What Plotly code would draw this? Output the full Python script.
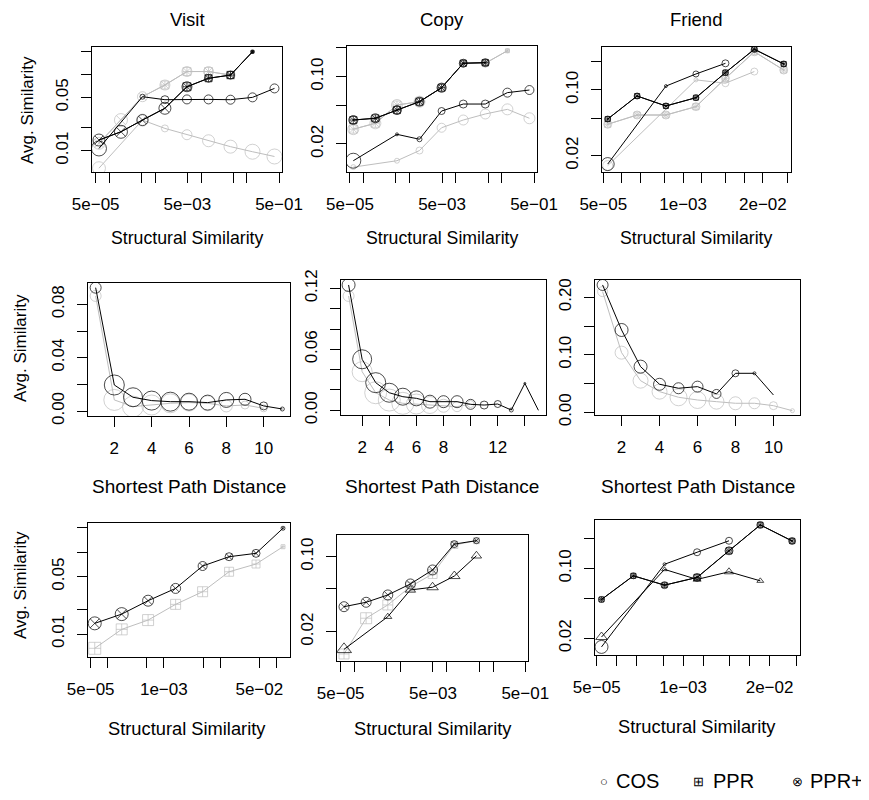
import plotly.graph_objects as go

W, H = 869, 800
# the page places the figure 8px in from the top-left corner; compensate for it
OX, OY = 8, 8
BLACK = "#000000"
GREY = "#BEBEBE"
FONT = "Liberation Sans, Arial, sans-serif"

# ------------------------------------------------------------------ data
sim_bins = [5.9e-05, 1.78e-04, 5.25e-04, 1.62e-03, 4.9e-03, 1.45e-02, 4.37e-02, 0.132, 0.398]
hops_11 = [1, 2, 3, 4, 5, 6, 7, 8, 9, 10, 11]
hops_15 = [1, 2, 3, 4, 5, 6, 7, 8, 9, 10, 11, 12, 13, 14, 15]

# Row 1 - Visit
r1_visit_cos_grey = [0.0059, None, 0.0252, 0.0196, 0.0162, 0.0135, 0.0113, 0.0097, 0.0084]
r1_visit_cos_black = [0.0107, None, 0.051, 0.0466, 0.047, 0.047, 0.0466, 0.050, 0.0655]
r1_visit_pprp_grey = [0.0125, 0.0252, 0.051, 0.0726, 0.109, 0.109, 0.098, 0.198, None]
r1_visit_pprp_black = [0.0138, 0.0177, 0.0252, 0.036, 0.0689, 0.089, 0.098, 0.198, None]
r1_visit_cos_grey_cex = [13, 0, 12, 7, 10, 12, 13, 15, 15]
r1_visit_cos_black_cex = [15, 0, 5, 8, 9, 9, 9, 9, 9]
r1_visit_pprp_grey_cex = [12, 13, 10, 10, 10, 10, 9, 3, 0]
r1_visit_pprp_black_cex = [12, 13, 11, 12, 10, 8, 8, 3, 0]
r1_visit_ppr_grey_cex = [0, 0, 0, 8, 8, 8, 8, 3, 0]
r1_visit_ppr_black_cex = [0, 0, 0, 0, 8, 7, 7, 3, 0]

# Row 1 - Copy
r1_copy_cos_grey = [0.0115, None, 0.0134, 0.0171, 0.0295, 0.0355, 0.041, 0.0458, 0.037]
r1_copy_cos_black = [0.0134, None, 0.0252, 0.0224, 0.044, 0.052, 0.052, 0.0683, 0.0727]
r1_copy_pprp_grey = [0.0285, 0.0328, 0.0508, 0.055, 0.0769, 0.138, 0.138, 0.186, None]
r1_copy_pprp_black = [0.0355, 0.037, 0.045, 0.055, 0.0769, 0.138, 0.140, None, None]
r1_copy_cos_grey_cex = [5, 0, 5, 7, 9, 10, 10, 11, 11]
r1_copy_cos_black_cex = [15, 0, 3, 5, 7, 8, 8, 9, 9]
r1_copy_pprp_grey_cex = [11, 11, 11, 11, 9, 8, 8, 4, 0]
r1_copy_pprp_black_cex = [9, 9, 9, 9, 9, 8, 8, 0, 0]
r1_copy_ppr_grey_cex = [8, 8, 8, 8, 7, 6, 6, 4, 0]
r1_copy_ppr_black_cex = [7, 7, 7, 7, 7, 6, 6, 0, 0]

# Row 1 - Friend
r1_friend_cos_grey = [0.0157, None, None, 0.128, 0.118, 0.157, None]
r1_friend_cos_black = [0.0163, None, 0.110, 0.148, 0.192, None, None]
r1_friend_pprp_grey = [0.0432, 0.0542, 0.0542, 0.0665, 0.133, 0.255, 0.163]
r1_friend_pprp_black = [0.0491, 0.0863, 0.0676, 0.0828, 0.153, 0.271, 0.189]
r1_friend_cos_grey_cex = [10, 0, 0, 4, 7, 7, 0]
r1_friend_cos_black_cex = [13, 0, 3, 6, 7, 0, 0]
r1_friend_pprp_grey_cex = [8, 8, 8, 8, 8, 8, 8]
r1_friend_pprp_black_cex = [6, 6, 6, 6, 6, 6, 6]
r1_friend_ppr_grey_cex = [6, 6, 6, 6, 6, 6, 6]
r1_friend_ppr_black_cex = [5, 5, 5, 5, 5, 5, 5]

# Row 2 - shortest path distance
r2_visit_grey = [0.0863, 0.0083, 0.0033, 0.0045, 0.0058, 0.0063, 0.0058, 0.0038, 0.0045, 0.002]
r2_visit_black = [0.0925, 0.0195, 0.0103, 0.0078, 0.007, 0.007, 0.0063, 0.0083, 0.0088, 0.0038, 0.0015]
r2_visit_grey_cex = [11, 21, 21, 20, 19, 17, 15, 12, 8, 7]
r2_visit_black_cex = [11, 20, 19, 19, 19, 17, 15, 15, 12, 8, 4]

r2_copy_grey = [0.1125, 0.038, 0.0173, 0.0101, 0.0069, 0.0062, 0.0052, 0.0045, 0.0036, 0.0062]
r2_copy_black = [0.1233, 0.0502, 0.0272, 0.0173, 0.0134, 0.0118, 0.0085, 0.0085, 0.0085,
                 0.0059, 0.0052, 0.0062, 0.0003, 0.0265, 0.0]
r2_copy_grey_cex = [11, 20, 22, 22, 22, 20, 17, 13, 10, 7]
r2_copy_black_cex = [13, 19, 20, 19, 17, 15, 13, 12, 12, 10, 8, 7, 4, 2, 0]

r2_friend_grey = [0.2098, 0.1037, 0.055, 0.0359, 0.0261, 0.0214, 0.0185, 0.0157, 0.0157, 0.0115, 0.0028]
r2_friend_black = [0.2214, 0.1431, 0.0794, 0.0487, 0.0418, 0.0446, 0.0319, 0.0678, 0.0678, 0.0301]
r2_friend_grey_cex = [10, 13, 15, 15, 17, 17, 15, 13, 11, 8, 4]
r2_friend_black_cex = [11, 13, 13, 12, 11, 11, 9, 7, 3, 0]

# Row 3
r3_visit_ppr_grey = [0.0067, 0.0114, 0.0148, 0.023, 0.0328, 0.0575, 0.0714, 0.116]
r3_visit_pprp_black = [0.0135, 0.0175, 0.0255, 0.036, 0.0675, 0.0877, 0.0964, 0.195]
r3_visit_ppr_grey_cex = [12, 11, 11, 10, 10, 9, 8, 4]
r3_visit_pprp_black_cex = [13, 13, 11, 10, 9, 8, 8, 4]

r3_copy_ppr_grey = [0.0124, 0.0267, 0.0355, 0.0525, 0.069, 0.1285, 0.141]
r3_copy_pprp_black = [0.0342, 0.0376, 0.044, 0.0557, 0.0752, 0.131, 0.141]
r3_copy_tri_black = [0.0137, None, 0.0276, 0.049, 0.0519, 0.066, 0.102]
r3_copy_ppr_grey_cex = [10, 11, 10, 9, 9, 7, 6]
r3_copy_pprp_black_cex = [10, 10, 10, 10, 10, 7, 6]
r3_copy_tri_black_cex = [13, 0, 7, 9, 10, 10, 9]

r3_friend_cos_black = [0.0164, None, 0.110, 0.145, 0.189, None, None]
r3_friend_pprp_black = [0.0489, 0.0843, 0.068, 0.0812, 0.150, 0.272, 0.188]
r3_friend_tri_black = [0.0206, None, 0.0977, 0.0776, 0.0925, 0.0751, None]
r3_friend_cos_black_cex = [13, 0, 3, 7, 7, 0, 0]
r3_friend_pprp_black_cex = [6, 6, 7, 8, 8, 7, 7]
r3_friend_ppr_black_cex = [5, 5, 5, 6, 6, 5, 5]
r3_friend_tri_black_cex = [10, 0, 5, 7, 8, 6, 0]

# tick definitions
ticks_sim_a = [5e-05, 1e-04, 5e-04, 1e-03, 5e-03, 1e-02, 5e-02, 1e-01, 5e-01]
ticks_sim_a_lab = ["5e\u221205", "", "", "", "5e\u221203", "", "", "", "5e\u221201"]
ticks_sim_b = [5e-05, 1e-04, 2e-04, 5e-04, 1e-03, 2e-03, 5e-03, 1e-02, 2e-02, 5e-02]
ticks_sim_b_lab = ["5e\u221205", "", "", "", "1e\u221203", "", "", "", "2e\u221202", ""]
ticks_sim_c = [5e-05, 1e-04, 5e-04, 1e-03, 5e-03, 1e-02, 5e-02, 1e-01]
ticks_sim_c_lab = ["5e\u221205", "", "", "1e\u221203", "", "", "5e\u221202", ""]
ticks_avg_a = [0.01, 0.02, 0.05, 0.1, 0.2]
ticks_avg_a_lab = ["0.01", "", "0.05", "", ""]
ticks_avg_b = [0.02, 0.05, 0.1, 0.2]
ticks_avg_b_lab = ["0.02", "", "0.10", ""]
ticks_hop_visit = [2, 4, 6, 8, 10]
ticks_hop_copy = [2, 4, 6, 8, 10, 12, 14]
ticks_hop_copy_lab = ["2", "4", "6", "8", "", "12", ""]
ticks_r2_visit_y = [0, 0.02, 0.04, 0.06, 0.08]
ticks_r2_visit_y_lab = ["0.00", "", "0.04", "", "0.08"]
ticks_r2_copy_y = [0, 0.02, 0.04, 0.06, 0.08, 0.10, 0.12]
ticks_r2_copy_y_lab = ["0.00", "", "", "0.06", "", "", "0.12"]
ticks_r2_friend_y = [0, 0.05, 0.10, 0.15, 0.20]
ticks_r2_friend_y_lab = ["0.00", "", "0.10", "", "0.20"]

# ------------------------------------------------------------------ layout geometry (pixel boxes)
boxes = [
    (92, 47, 282, 172), (347, 46, 537, 172), (602, 47, 791, 172),
    (88, 283, 290, 416), (341, 280, 546, 415), (595, 280, 800, 415),
    (88, 523, 290, 657), (337, 535, 528, 661), (595, 520, 800, 655),
]
xranges = [(-4.381, -0.236), (-4.366, -0.236), (-4.322, -1.241),
           (0.59, 11.41), (0.44, 15.56), (0.6, 11.4),
           (-4.349, -0.755), (-4.381, -0.242), (-4.327, -1.241)]
yranges = [(-2.279, -0.641), (-1.99, -0.681), (-1.872, -0.543),
           (-0.00375, 0.096), (-0.0046, 0.1282), (-0.0047, 0.230),
           (-2.28, -0.646), (-1.972, -0.798), (-1.866, -0.516)]
xlog = [True, True, True, False, False, False, True, True, True]
xticks = [(ticks_sim_a, ticks_sim_a_lab), (ticks_sim_a, ticks_sim_a_lab), (ticks_sim_b, ticks_sim_b_lab),
          (ticks_hop_visit, [str(v) for v in ticks_hop_visit]), (ticks_hop_copy, ticks_hop_copy_lab),
          (ticks_hop_visit, [str(v) for v in ticks_hop_visit]),
          (ticks_sim_c, ticks_sim_c_lab), (ticks_sim_a, ticks_sim_a_lab), (ticks_sim_b, ticks_sim_b_lab)]
yticks = [(ticks_avg_a, ticks_avg_a_lab), (ticks_avg_b, ticks_avg_b_lab), (ticks_avg_b, ticks_avg_b_lab),
          (ticks_r2_visit_y, ticks_r2_visit_y_lab), (ticks_r2_copy_y, ticks_r2_copy_y_lab),
          (ticks_r2_friend_y, ticks_r2_friend_y_lab),
          (ticks_avg_a, ticks_avg_a_lab), (ticks_avg_b, ticks_avg_b_lab), (ticks_avg_b, ticks_avg_b_lab)]

fig = go.Figure()


def add(i, x, y, color, symbol, sizes):
    xs, ys, ss = [], [], []
    for xv, yv, sv in zip(x, y, sizes):
        if yv is None:
            continue
        xs.append(xv)
        ys.append(yv)
        ss.append(sv)
    sfx = "" if i == 1 else str(i)
    fig.add_trace(go.Scatter(
        x=xs, y=ys, mode="lines+markers", xaxis="x" + sfx, yaxis="y" + sfx,
        line=dict(color=color, width=1),
        marker=dict(symbol=symbol, size=ss, color=color, line=dict(color=color, width=1)),
        showlegend=False, hoverinfo="skip"))


C, P, PP, T = "circle-open", "square-cross-open", "circle-x-open", "triangle-up-open"

# Row 1
add(1, sim_bins, r1_visit_cos_grey, GREY, C, r1_visit_cos_grey_cex)
add(1, sim_bins, r1_visit_pprp_grey, GREY, P, r1_visit_ppr_grey_cex)
add(1, sim_bins, r1_visit_pprp_grey, GREY, PP, r1_visit_pprp_grey_cex)
add(1, sim_bins, r1_visit_cos_black, BLACK, C, r1_visit_cos_black_cex)
add(1, sim_bins, r1_visit_pprp_black, BLACK, P, r1_visit_ppr_black_cex)
add(1, sim_bins, r1_visit_pprp_black, BLACK, PP, r1_visit_pprp_black_cex)

add(2, sim_bins, r1_copy_cos_grey, GREY, C, r1_copy_cos_grey_cex)
add(2, sim_bins, r1_copy_pprp_grey, GREY, P, r1_copy_ppr_grey_cex)
add(2, sim_bins, r1_copy_pprp_grey, GREY, PP, r1_copy_pprp_grey_cex)
add(2, sim_bins, r1_copy_cos_black, BLACK, C, r1_copy_cos_black_cex)
add(2, sim_bins, r1_copy_pprp_black, BLACK, P, r1_copy_ppr_black_cex)
add(2, sim_bins, r1_copy_pprp_black, BLACK, PP, r1_copy_pprp_black_cex)

add(3, sim_bins, r1_friend_cos_grey, GREY, C, r1_friend_cos_grey_cex)
add(3, sim_bins, r1_friend_pprp_grey, GREY, P, r1_friend_ppr_grey_cex)
add(3, sim_bins, r1_friend_pprp_grey, GREY, PP, r1_friend_pprp_grey_cex)
add(3, sim_bins, r1_friend_cos_black, BLACK, C, r1_friend_cos_black_cex)
add(3, sim_bins, r1_friend_pprp_black, BLACK, P, r1_friend_ppr_black_cex)
add(3, sim_bins, r1_friend_pprp_black, BLACK, PP, r1_friend_pprp_black_cex)

# Row 2
add(4, hops_11, r2_visit_grey, GREY, C, r2_visit_grey_cex)
add(4, hops_11, r2_visit_black, BLACK, C, r2_visit_black_cex)
add(5, hops_15, r2_copy_grey, GREY, C, r2_copy_grey_cex)
add(5, hops_15, r2_copy_black, BLACK, C, r2_copy_black_cex)
add(6, hops_11, r2_friend_grey, GREY, C, r2_friend_grey_cex)
add(6, hops_11, r2_friend_black, BLACK, C, r2_friend_black_cex)

# Row 3
add(7, sim_bins, r3_visit_ppr_grey, GREY, P, r3_visit_ppr_grey_cex)
add(7, sim_bins, r3_visit_pprp_black, BLACK, PP, r3_visit_pprp_black_cex)
add(8, sim_bins, r3_copy_ppr_grey, GREY, P, r3_copy_ppr_grey_cex)
add(8, sim_bins, r3_copy_tri_black, BLACK, T, r3_copy_tri_black_cex)
add(8, sim_bins, r3_copy_pprp_black, BLACK, PP, r3_copy_pprp_black_cex)
add(9, sim_bins, r3_friend_cos_black, BLACK, C, r3_friend_cos_black_cex)
add(9, sim_bins, r3_friend_tri_black, BLACK, T, r3_friend_tri_black_cex)
add(9, sim_bins, r3_friend_pprp_black, BLACK, P, r3_friend_ppr_black_cex)
add(9, sim_bins, r3_friend_pprp_black, BLACK, PP, r3_friend_pprp_black_cex)

layout = dict(
    template="none",
    width=W, height=H, margin=dict(l=0, r=0, t=0, b=0, pad=0),
    paper_bgcolor="white", plot_bgcolor="white",
    font=dict(family=FONT, size=17, color="black"),
    showlegend=False,
)


def fx(px):
    return (px - OX) / W


def fy(py):
    return 1 - (py - OY) / H


TICKFONT = dict(family=FONT, size=17, color="black")
for i in range(9):
    l, t, r, b = boxes[i]
    sfx = "" if i == 0 else str(i + 1)
    xv, xl = xticks[i]
    yv, yl = yticks[i]
    common = dict(showline=True, mirror=True, linecolor="black", linewidth=1,
                  showgrid=False, zeroline=False, ticks="outside", ticklen=10,
                  tickwidth=1, tickcolor="black", tickfont=TICKFONT, automargin=False)
    layout["xaxis" + sfx] = dict(
        domain=[fx(l), fx(r)], anchor="y" + sfx,
        type="log" if xlog[i] else "linear", range=list(xranges[i]),
        tickmode="array", tickvals=xv, ticktext=xl, ticklabelstandoff=7, **common)
    layout["yaxis" + sfx] = dict(
        domain=[fy(b), fy(t)], anchor="x" + sfx,
        type="log" if (xlog[i]) else "linear", range=list(yranges[i]),
        tickmode="array", tickvals=yv, ticktext=yl, tickangle=-90, ticklabelstandoff=6, **common)

fig.update_layout(**layout)

ann = []


def text(px, py, s, size=17, angle=0, yanchor="middle"):
    ann.append(dict(x=fx(px), y=fy(py), xref="paper", yref="paper", text=s, showarrow=False,
                    xanchor="center", yanchor=yanchor, textangle=angle, borderpad=0,
                    font=dict(family=FONT, size=size, color="black")))


text(187, 8, "Visit", 18.5, yanchor="top")
text(442, 8, "Copy", 18.5, yanchor="top")
text(696, 8, "Friend", 18.5, yanchor="top")
for cx, cy in [(187, 238), (442, 238), (696, 238)]:
    text(cx, cy, "Structural Similarity", 17.7)
for cx in (189, 442, 698):
    text(cx, 486, "Shortest Path Distance", 19)
for cx, cy in [(187, 728), (433, 728), (697, 726)]:
    text(cx, cy, "Structural Similarity", 18.3)
text(28, 110, "Avg. Similarity", angle=-90)
text(20, 348, "Avg. Similarity", angle=-90)
text(20, 585, "Avg. Similarity", angle=-90)
text(603.5, 781, "\u25cb", 13)
text(637, 781, "COS", 20)
text(698.5, 781, "\u229e", 13)
text(733, 781, "PPR", 20)
text(797, 781, "\u2297", 13)
text(836, 781, "PPR+", 20)
fig.update_layout(annotations=ann)

fig.write_html("out.html")
